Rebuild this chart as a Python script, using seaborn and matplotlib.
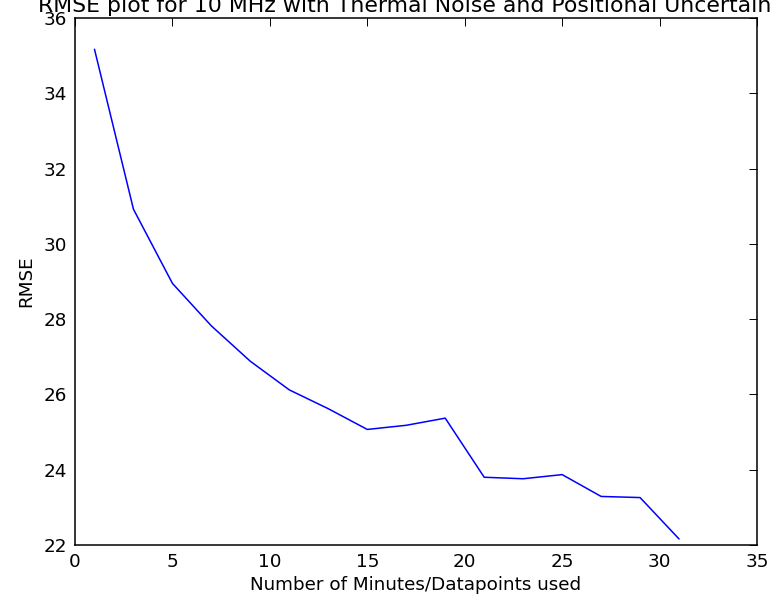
import matplotlib
matplotlib.use("Agg")
import matplotlib.pyplot as plt
import seaborn as sns
import pandas as pd

# RMSE versus number of minutes (datapoints) used in the fit
minutes = [1, 3, 5, 7, 9, 11, 13, 15, 17, 19, 21, 23, 25, 27, 29, 31]
rmse = [35.17, 30.92, 28.95, 27.82, 26.88, 26.12, 25.62, 25.07,
        25.18, 25.37, 23.80, 23.76, 23.87, 23.29, 23.26, 22.16]

xticks = [0, 5, 10, 15, 20, 25, 30, 35]
yticks = [22, 24, 26, 28, 30, 32, 34, 36]

sns.set_style("white")
plt.rcParams["font.family"] = ["DejaVu Sans"]
plt.rcParams["text.color"] = "black"
plt.rcParams["axes.labelcolor"] = "black"

df = pd.DataFrame({"minutes": minutes, "rmse": rmse})

W, H = 770, 597
fig = plt.figure(figsize=(W / 100, H / 100), dpi=100)
fig.patch.set_facecolor("white")
ax = fig.add_axes([75 / W, (H - 545) / H, 682 / W, 527 / H])

sns.lineplot(data=df, x="minutes", y="rmse", color=(0, 0, 1), linewidth=1.1,
             ax=ax, estimator=None)

ax.set_xlim(0, 35)
ax.set_ylim(22, 36)
ax.set_xticks(xticks)
ax.set_yticks(yticks)
ax.tick_params(direction="in", top=True, right=True, length=6, width=0.7,
               labelsize=13.2, colors="black", pad=5.5)
for s in ax.spines.values():
    s.set_color("black")
    s.set_linewidth(1.1)
    s.set_visible(True)

ax.set_xlabel("Number of Minutes/Datapoints used", fontsize=13.2, labelpad=4,
              color="black")
ax.set_ylabel("RMSE", fontsize=13.2, labelpad=6, color="black")
ax.set_title("RMSE plot for 10 MHz with Thermal Noise and Positional Uncertainty",
             fontsize=15.84, pad=4.5, color="black")
ax.grid(False)

fig.savefig("out.png", dpi=100)
